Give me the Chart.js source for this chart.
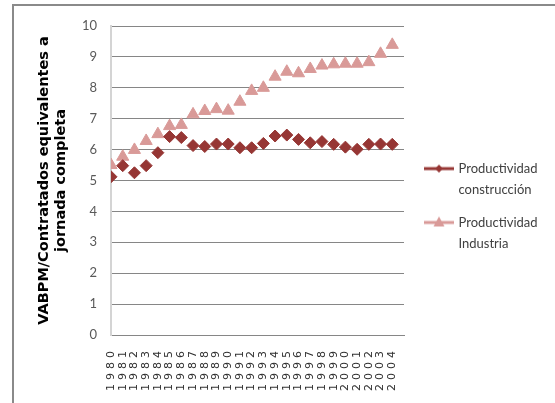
<!DOCTYPE html>
<html>
<head>
<meta charset="utf-8">
<script src="https://cdn.jsdelivr.net/npm/chart.js@4.4.1/dist/chart.umd.min.js"></script>
<style>
  html, body { margin: 0; padding: 0; background: #fff; }
  #wrap { position: relative; width: 555px; height: 403px; overflow: hidden; }
  #frame { position: absolute; left: 12px; top: 4px; width: 560px; height: 420px;
           border-top: 2px solid #8a8a8a; border-left: 2px solid #8a8a8a; }
  canvas { position: absolute; left: 0; top: 0; }
</style>
</head>
<body>
<div id="wrap">
  <div id="frame"></div>
  <canvas id="chart" width="555" height="403"></canvas>
</div>
<script>
// ---------------------------
// data
// ---------------------------
const years = [1980, 1981, 1982, 1983, 1984, 1985, 1986, 1987, 1988, 1989,
               1990, 1991, 1992, 1993, 1994, 1995, 1996, 1997, 1998, 1999,
               2000, 2001, 2002, 2003, 2004];

const construccion = [5.12, 5.48, 5.25, 5.48, 5.9, 6.42, 6.39, 6.13, 6.1, 6.18,
                      6.18, 6.06, 6.06, 6.2, 6.44, 6.47, 6.33, 6.22, 6.26, 6.17,
                      6.08, 6.01, 6.17, 6.18, 6.17];

const industria = [5.5, 5.77, 5.99, 6.28, 6.5, 6.76, 6.8, 7.14, 7.25, 7.31,
                   7.26, 7.55, 7.9, 8.0, 8.36, 8.52, 8.47, 8.61, 8.72, 8.76,
                   8.78, 8.78, 8.83, 9.1, 9.39];

const yTicks = [0, 1, 2, 3, 4, 5, 6, 7, 8, 9, 10];
const seriesNames = [["Productividad", "construcción"], ["Productividad", "Industria"]];

const DARK = "#963634";
const LIGHT = "#d99a98";

// legend swatch: line with the marker on it
function swatch(color, shape) {
    const c = document.createElement("canvas");
    c.width = 30; c.height = 14;
    const g = c.getContext("2d");
    g.strokeStyle = color;
    g.lineWidth = 3;
    g.beginPath(); g.moveTo(0, 7); g.lineTo(30, 7); g.stroke();
    g.fillStyle = color;
    g.beginPath();
    if (shape === "diamond") {
        g.moveTo(15, 3); g.lineTo(19, 7); g.lineTo(15, 11); g.lineTo(11, 7);
    } else {
        g.moveTo(15, 1); g.lineTo(20.5, 11); g.lineTo(9.5, 11);
    }
    g.closePath(); g.fill();
    return c;
}

const swatches = [swatch(DARK, "diamond"), swatch(LIGHT, "triangle")];

// nudge the legend into place after layout
const legendShift = { x: 11, y: -4 };
const legendNudge = {
    id: "legendNudge",
    afterLayout(chart) {
        const l = chart.legend;
        l.left += legendShift.x; l.right += legendShift.x;
        l.top += legendShift.y; l.bottom += legendShift.y;
    }
};

// the year labels in the picture are spread out
const yearSpacing = {
    id: "yearSpacing",
    afterDatasetsDraw(chart) { chart.ctx.letterSpacing = "4px"; },
    afterDraw(chart) { chart.ctx.letterSpacing = "0px"; }
};

new Chart(document.getElementById("chart"), {
    type: "line",
    data: {
        datasets: [
            {
                label: seriesNames[0].join(" "),
                data: years.map((y, i) => ({ x: y, y: construccion[i] })),
                showLine: false,
                pointStyle: "rectRot",
                pointRadius: 6,
                pointBackgroundColor: DARK,
                pointBorderColor: DARK,
                pointBorderWidth: 1
            },
            {
                label: seriesNames[1].join(" "),
                data: years.map((y, i) => ({ x: y, y: industria[i] })),
                showLine: false,
                pointStyle: "triangle",
                pointRadius: 7,
                pointBackgroundColor: LIGHT,
                pointBorderColor: LIGHT,
                pointBorderWidth: 1
            }
        ]
    },
    options: {
        responsive: false,
        animation: false,
        layout: { padding: { left: 32, top: 26, right: 27, bottom: 0 } },
        plugins: {
            tooltip: { enabled: false },
            legend: {
                position: "right",
                labels: {
                    usePointStyle: true,
                    pointStyleWidth: 26,
                    padding: 11,
                    color: "#404040",
                    font: { family: "Lato", size: 13, lineHeight: 1.65 },
                    generateLabels: (chart) => chart.data.datasets.map((ds, i) => ({
                        text: seriesNames[i],
                        pointStyle: swatches[i],
                        fillStyle: ds.pointBackgroundColor,
                        strokeStyle: ds.pointBorderColor,
                        fontColor: "#404040",
                        lineWidth: 0,
                        datasetIndex: i
                    }))
                }
            }
        },
        scales: {
            x: {
                type: "linear",
                min: years[0],
                max: years[years.length - 1] + 1,
                grid: { display: false, drawTicks: false },
                border: { display: true, color: "#868686", width: 1 },
                ticks: {
                    z: 1,
                    stepSize: 1,
                    autoSkip: false,
                    minRotation: 90,
                    maxRotation: 90,
                    padding: 12,
                    color: "#303030",
                    font: { family: "DejaVu Sans", size: 11 },
                    callback: (v) => (years.includes(v) ? String(v) : "")
                },
                afterFit: (s) => { s.height = 68; }
            },
            y: {
                min: yTicks[0],
                max: yTicks[yTicks.length - 1],
                afterBuildTicks: (s) => { s.ticks = yTicks.map(v => ({ value: v })); },
                grid: { color: "#868686", lineWidth: 1, drawTicks: false },
                border: { display: true, color: "#d4d4d4", width: 2 },
                ticks: {
                    padding: 14,
                    color: "#595959",
                    font: { family: "Lato", size: 13 }
                },
                title: {
                    display: true,
                    text: ["VABPM/Contratados equivalentes a", "jornada completa"],
                    color: "#000",
                    padding: { top: 4, bottom: 4 },
                    font: { family: "DejaVu Sans", size: 14.5, weight: "bold", lineHeight: 1.17 }
                },
                afterFit: (s) => { s.width = 79; }
            }
        }
    },
    plugins: [legendNudge, yearSpacing]
});
</script>
</body>
</html>
